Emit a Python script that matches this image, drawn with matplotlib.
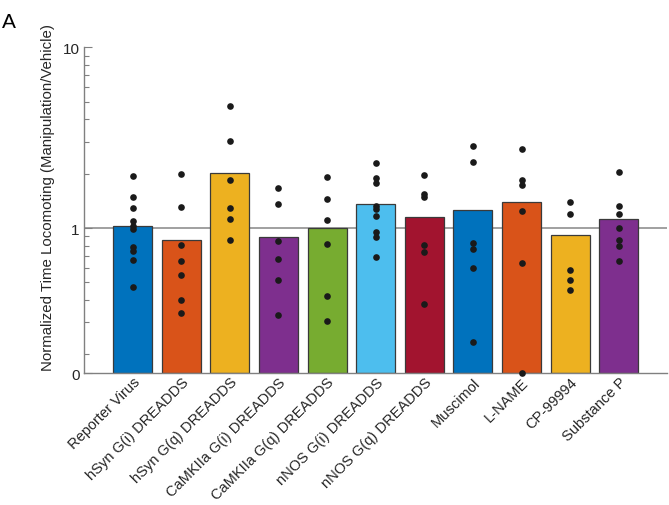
import numpy as np
import matplotlib
matplotlib.use("Agg")
import matplotlib.pyplot as plt

plt.rcParams["font.family"] = ["Liberation Sans", "DejaVu Sans"]

groups = ["Reporter Virus", "hSyn G(i) DREADDS", "hSyn G(q) DREADDS",
          "CaMKIIa G(i) DREADDS", "CaMKIIa G(q) DREADDS", "nNOS G(i) DREADDS",
          "nNOS G(q) DREADDS", "Muscimol", "L-NAME", "CP-99994", "Substance P"]
bar_vals = [1.02, 0.862, 2.02, 0.888, 0.995, 1.363, 1.15, 1.262, 1.387, 0.918, 1.126]
points = [
    [1.947, 1.49, 1.285, 1.089, 1.03, 0.987, 0.785, 0.746, 0.668, 0.471],
    [1.998, 1.302, 0.808, 0.659, 0.547, 0.398, 0.339],
    [4.72, 3.04, 1.843, 1.29, 1.117, 0.862],
    [1.658, 1.358, 0.844, 0.674, 0.516, 0.331],
    [1.915, 1.447, 1.107, 0.819, 0.420, 0.307],
    [2.298, 1.884, 1.781, 1.318, 1.269, 1.17, 0.947, 0.888, 0.694],
    [1.972, 1.537, 1.49, 0.802, 0.737, 0.380],
    [2.83, 2.32, 0.823, 0.768, 0.603, 0.235],
    [2.737, 1.85, 1.736, 1.242, 0.638, 0.158],
    [1.387, 1.195, 0.583, 0.514, 0.452],
    [2.05, 1.318, 1.19, 1.0, 0.858, 0.798, 0.659],
]
colors = ["#0072BD", "#D95319", "#EDB120", "#7E2F8E", "#77AC30", "#4DBEEE",
          "#A2142F", "#0072BD", "#D95319", "#EDB120", "#7E2F8E"]
y_bottom = 0.157

fig = plt.figure(figsize=(6.69, 5.06), dpi=100)
ax = fig.add_axes([0.1256, 0.2603, 0.872, 0.6442])

x = np.arange(1, len(groups) + 1)
ax.axhline(1, color="#999999", lw=1.3, zorder=1)
ax.bar(x, [v - y_bottom for v in bar_vals], bottom=y_bottom, width=0.8,
       color=colors, edgecolor="#3a3a3a", linewidth=0.9, zorder=2)
for xi, pts in zip(x, points):
    ax.plot([xi] * len(pts), pts, "o", color="#1a1a1a", ms=4.8, mew=0,
            zorder=3, clip_on=False)

ax.set_yscale("log")
ax.set_ylim(y_bottom, 10)
ax.set_xlim(0, 12)
ax.set_yticks([y_bottom, 1, 10])
ax.set_yticklabels(["0", "1", "10"])
ax.yaxis.set_minor_locator(matplotlib.ticker.LogLocator(base=10, subs=np.arange(2, 10)))
ax.yaxis.set_minor_formatter(matplotlib.ticker.NullFormatter())
ax.tick_params(axis="y", which="major", direction="in", length=6, width=0.8,
               color="#808080", labelsize=11, labelcolor="#262626", pad=3)
ax.tick_params(axis="y", which="minor", direction="in", length=3.5, width=0.8,
               color="#808080")
ax.set_xticks(x)
ax.set_xticklabels(groups, rotation=45, ha="right", rotation_mode="anchor",
                   fontsize=10.5, color="#262626")
ax.tick_params(axis="x", length=0, pad=1)

for s in ["top", "right"]:
    ax.spines[s].set_visible(False)
for s in ["left", "bottom"]:
    ax.spines[s].set_color("#808080")
    ax.spines[s].set_linewidth(1.0)

ax.set_ylabel("Normalized Time Locomoting (Manipulation/Vehicle)", fontsize=10.8,
              color="#262626")
ax.yaxis.set_label_coords(-0.05, 0.541)
fig.text(0.003, 0.975, "A", fontsize=15, va="top", ha="left")

fig.savefig("out.png", dpi=100)
